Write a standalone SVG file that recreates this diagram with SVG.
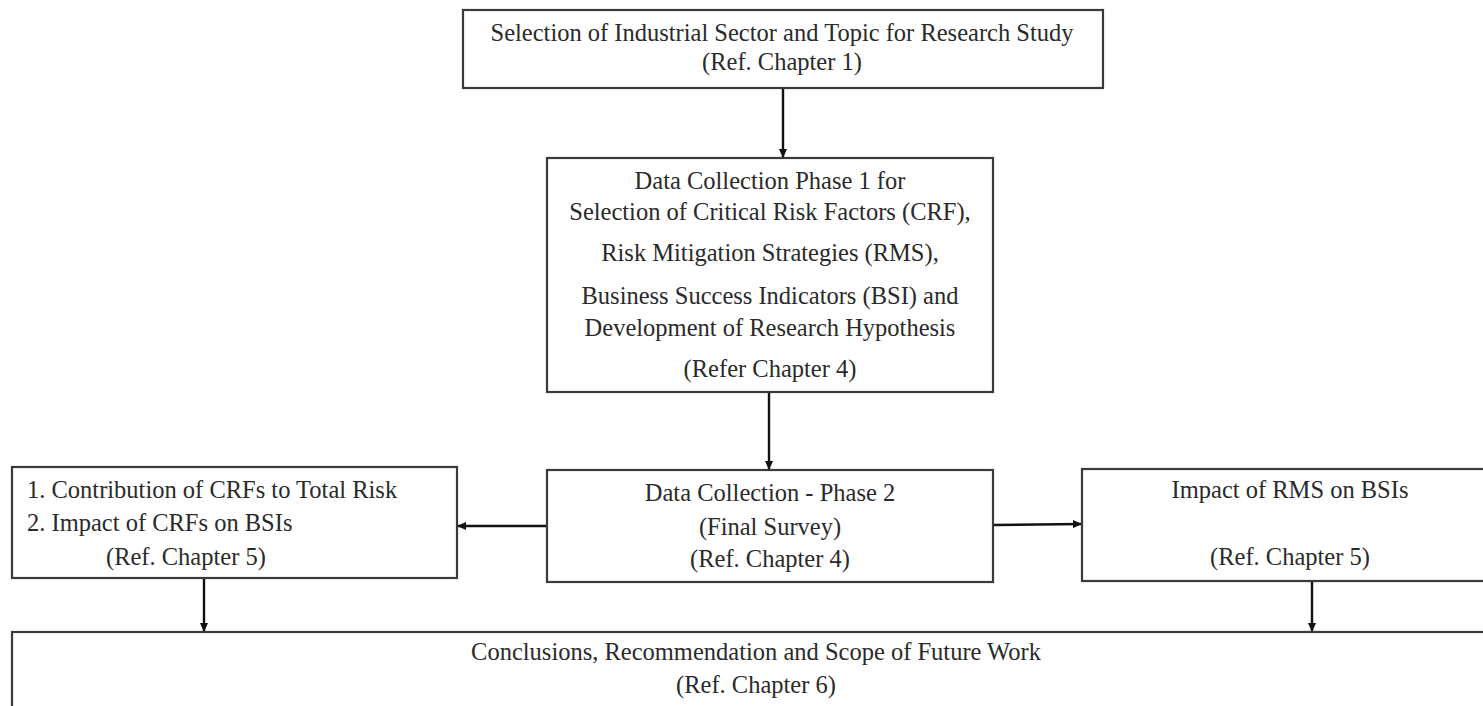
<svg xmlns="http://www.w3.org/2000/svg" width="1483" height="706" viewBox="0 0 1483 706">
<style>
.box{fill:#fff;stroke:#3a3a3a;stroke-width:2.2}
.t{font-family:"Liberation Serif","Times New Roman",serif;font-size:24.5px;fill:#2a2a2a}
.c{text-anchor:middle}
.conn{stroke:#111;stroke-width:2.4;fill:none;marker-end:url(#ah)}
</style>
<defs>
<marker id="ah" markerUnits="userSpaceOnUse" markerWidth="9" markerHeight="8" refX="8" refY="4" orient="auto">
<path d="M0,0 L9,4 L0,8 z" fill="#111"/>
</marker>
</defs>
<rect width="1483" height="706" fill="#fff"/>
<g id="connectors">
<line class="conn" x1="783" y1="88" x2="783" y2="157"/>
<line class="conn" x1="769" y1="392" x2="769" y2="469"/>
<line class="conn" x1="547" y1="526" x2="458" y2="526"/>
<line class="conn" x1="993" y1="525" x2="1081" y2="524"/>
<line class="conn" x1="204" y1="578" x2="204" y2="631"/>
<line class="conn" x1="1312" y1="581" x2="1312" y2="631"/>
</g>
<g id="n1">
<rect class="box" x="463" y="10" width="640" height="78"/>
<text class="t c" x="782" y="41">Selection of Industrial Sector and Topic for Research Study</text>
<text class="t c" x="782" y="70">(Ref. Chapter 1)</text>
</g>
<g id="n2">
<rect class="box" x="547" y="158" width="446" height="234"/>
<text class="t c" x="770" y="189">Data Collection Phase 1 for</text>
<text class="t c" x="770" y="220">Selection of Critical Risk Factors (CRF),</text>
<text class="t c" x="770" y="261">Risk Mitigation Strategies (RMS),</text>
<text class="t c" x="770" y="304">Business Success Indicators (BSI) and</text>
<text class="t c" x="770" y="336">Development of Research Hypothesis</text>
<text class="t c" x="770" y="377">(Refer Chapter 4)</text>
</g>
<g id="n3">
<rect class="box" x="547" y="470" width="446" height="112"/>
<text class="t c" x="770" y="501">Data Collection - Phase 2</text>
<text class="t c" x="770" y="535">(Final Survey)</text>
<text class="t c" x="770" y="567">(Ref. Chapter 4)</text>
</g>
<g id="n4">
<rect class="box" x="12" y="467" width="445" height="111"/>
<text class="t" x="27" y="498">1. Contribution of CRFs to Total Risk</text>
<text class="t" x="27" y="531">2. Impact of CRFs on BSIs</text>
<text class="t" x="106" y="565">(Ref. Chapter 5)</text>
</g>
<g id="n5">
<rect class="box" x="1082" y="469" width="420" height="112"/>
<text class="t c" x="1290" y="498">Impact of RMS on BSIs</text>
<text class="t c" x="1290" y="565">(Ref. Chapter 5)</text>
</g>
<g id="n6">
<rect class="box" x="12" y="632" width="1490" height="100"/>
<text class="t c" x="756" y="660">Conclusions, Recommendation and Scope of Future Work</text>
<text class="t c" x="756" y="693">(Ref. Chapter 6)</text>
</g>
</svg>
